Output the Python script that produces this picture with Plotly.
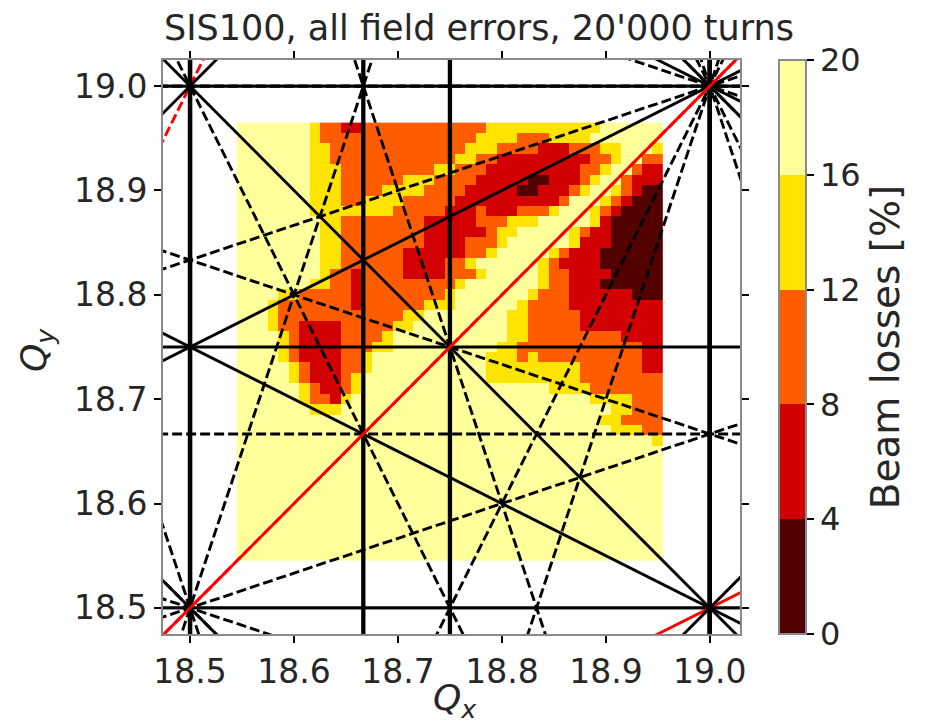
import plotly.graph_objects as go

# ---------------- data ----------------
QX_CENTERS = [18.55, 18.56, 18.57, 18.58, 18.59, 18.60, 18.61, 18.62, 18.63, 18.64,
              18.65, 18.66, 18.67, 18.68, 18.69, 18.70, 18.71, 18.72, 18.73, 18.74,
              18.75, 18.76, 18.77, 18.78, 18.79, 18.80, 18.81, 18.82, 18.83, 18.84,
              18.85, 18.86, 18.87, 18.88, 18.89, 18.90, 18.91, 18.92, 18.93, 18.94, 18.95]
# rows listed from top (Qy = 18.96) to bottom (Qy = 18.55)
QY_CENTERS_TOP_DOWN = [18.96, 18.95, 18.94, 18.93, 18.92, 18.91, 18.90, 18.89, 18.88, 18.87,
                       18.86, 18.85, 18.84, 18.83, 18.82, 18.81, 18.80, 18.79, 18.78, 18.77,
                       18.76, 18.75, 18.74, 18.73, 18.72, 18.71, 18.70, 18.69, 18.68, 18.67,
                       18.66, 18.65, 18.64, 18.63, 18.62, 18.61, 18.60, 18.59, 18.58, 18.57,
                       18.56, 18.55]
# loss class per cell: 0: 0-4 %, 1: 4-8 %, 2: 8-12 %, 3: 12-16 %, 4: 16-20 %
LOSS_CLASS_VALUE = {"0": 2, "1": 6, "2": 10, "3": 14, "4": 18}
LOSS_ROWS = [
    "4444444" "3" "22" "11" "222222222222" "33333333333" "444444",
    "4444444" "3" "222222222222222" "3333" "222" "3333" "4444444",
    "4444444" "33" "2222222222222" "333" "2222" "111" "222" "33" "444" "3",
    "4444444" "33" "222222222222" "33" "22" "111111111" "22" "3" "44" "22",
    "4444444" "333" "222222222" "33" "222" "111111111" "22" "3" "44" "2" "11",
    "4444444" "333" "222222" "333" "2222" "11111" "00" "111" "2" "3" "44" "2" "111",
    "4444444" "333" "2222" "3333" "2222" "11111" "00" "111" "2" "3" "44" "3" "2" "1" "00",
    "4444444" "333" "22" "3333" "22222" "1111111" "111" "2" "44" "4" "3" "2" "1" "000",
    "4444444" "3333333" "3" "22222" "111" "2" "111" "2" "22" "3" "444" "3" "2" "1" "0000",
    "44444444" "33" "2222" "2222" "11111" "222" "33" "3" "444" "4" "4" "3" "1" "00000",
    "44444444" "33" "2222" "2222" "111111" "2" "33" "4" "444" "4" "3" "2" "11" "00000",
    "44444444" "33" "2222" "2222" "1111" "222" "3" "44" "44" "4" "4" "3" "111" "00000",
    "44444444" "33" "2222" "22" "111111" "22" "3" "444" "4" "4" "3" "2" "111" "000000",
    "44444444" "33" "2222" "22" "1111" "22" "3" "44444" "4" "3" "2" "1111" "000000",
    "44444444" "3" "22" "1" "22" "22" "1111" "222" "3" "4444" "4" "3" "22" "1111" "00000",
    "4444444" "33" "22" "1" "22" "2222222" "3" "4444" "4" "4" "4" "3" "22" "111" "000000",
    "4444" "33" "22222" "1" "22" "222222" "3" "4444" "4" "44" "3" "222" "111111" "000",
    "444" "3" "2222222" "1" "22" "2222" "333" "444" "4" "44" "3" "2222" "111111111",
    "444" "3" "2222222222" "22" "33" "44444" "4" "44" "33" "22222" "11111111",
    "444" "3" "22" "1111" "2222" "2" "33" "44444" "4" "444" "33" "22222" "11111111",
    "4444" "3" "2" "1111" "2222" "3" "444444" "4" "4444" "33" "222222222" "1111",
    "4444" "3" "2" "1111" "222" "3" "3" "44444" "4" "4444" "33" "2" "22222222222" "11",
    "4444" "3" "2" "1111" "22" "3" "4" "44444" "4" "4444" "333" "2" "3" "2222222222" "11",
    "44444" "3" "2" "111" "22" "3" "4" "4444" "4" "44444" "3333" "33333" "222222" "11",
    "44444" "3" "2" "111" "2" "3" "44" "444" "4" "444444" "3333" "33333" "22222222",
    "444444" "3" "2" "11" "2" "3" "44" "44444444444444" "44" "3333" "2222222",
    "444444" "3" "22" "1" "3" "444" "44444444444444" "444444" "3333" "222",
    "4444444" "333" "4444" "44444444444444" "44444444" "33" "222",
    "44444444444444444444444444444444444" "33" "2222",
    "444444444444444444444444444444444444" "333" "22",
    "4444444444444444444444444444444444444444" "3",
    "44444444444444444444444444444444444444444",
    "44444444444444444444444444444444444444444",
    "44444444444444444444444444444444444444444",
    "44444444444444444444444444444444444444444",
    "44444444444444444444444444444444444444444",
    "44444444444444444444444444444444444444444",
    "44444444444444444444444444444444444444444",
    "44444444444444444444444444444444444444444",
    "44444444444444444444444444444444444444444",
    "44444444444444444444444444444444444444444",
    "44444444444444444444444444444444444444444",
]

# resonance lines m*Qx + n*Qy = p  (orders 1..4)
RESONANCES = [
    (1, 0, 19), (0, 1, 19),
    (2, 0, 37), (2, 0, 38), (0, 2, 37), (0, 2, 38), (1, 1, 37), (1, 1, 38), (1, -1, 0),
    (3, 0, 56), (3, 0, 57), (0, 3, 56), (0, 3, 57),
    (2, 1, 56), (2, 1, 57), (2, -1, 18), (2, -1, 19),
    (1, 2, 56), (1, 2, 57), (1, -2, -18), (1, -2, -19),
    (4, 0, 74), (4, 0, 75), (4, 0, 76), (0, 4, 74), (0, 4, 75), (0, 4, 76),
    (3, 1, 74), (3, 1, 75), (3, 1, 76), (3, -1, 37), (3, -1, 38),
    (1, 3, 74), (1, 3, 75), (1, 3, 76), (1, -3, -37), (1, -3, -38),
    (2, 2, 74), (2, 2, 75), (2, 2, 76), (2, -2, -1), (2, -2, 0), (2, -2, 1),
]
SUPERPERIODS = 6

X_RANGE = [18.474, 19.029]
Y_RANGE = [18.475, 19.025]
TICKS = [18.5, 18.6, 18.7, 18.8, 18.9, 19.0]
CBAR_TICKS = [0, 4, 8, 12, 16, 20]
LEVEL_COLORS = ["#520000", "#d20000", "#ff5c00", "#ffe400", "#ffff9b"]

TITLE = "SIS100, all field errors, 20'000 turns"
CBAR_TITLE = "Beam losses [%]"
XLABEL = "<i>Q</i><sub><i>x</i></sub>"
YLABEL = "<i>Q</i><sub><i>y</i></sub>"

# ---------------- build ----------------
rows = [(r + "4" * 41)[:41] for r in LOSS_ROWS]
z_top_down = [[LOSS_CLASS_VALUE[c] for c in r] for r in rows]
z = z_top_down[::-1]
qy = QY_CENTERS_TOP_DOWN[::-1]

cs = []
nlev = len(LEVEL_COLORS)
for k, col in enumerate(LEVEL_COLORS):
    cs.append([k / nlev, col])
    cs.append([(k + 1) / nlev, col])

FONT = "DejaVu Sans"
TXT = "#262626"
OFF = 8                      # page body margin of the html page
W, H = 935 - OFF, 727 - OFF
L, R, T, B = 163 - OFF, 740 - OFF, 60 - OFF, 634 - OFF
PW, PH = R - L, B - T

fig = go.Figure()
fig.add_trace(go.Heatmap(
    x=QX_CENTERS, y=qy, z=z, zmin=0, zmax=20, colorscale=cs,
    showscale=True,
    colorbar=dict(
        x=(779 - OFF - L) / PW, xanchor="left", xpad=0, ypad=0,
        y=0.5, yanchor="middle", len=1.0, lenmode="fraction",
        thickness=27, outlinecolor="#8a8a8a", outlinewidth=2,
        tickvals=CBAR_TICKS, ticks="outside", ticklen=7, tickwidth=2,
        tickcolor="black", tickfont=dict(family=FONT, size=32, color=TXT),
        title=dict(text=CBAR_TITLE, side="right", font=dict(family=FONT, size=39, color=TXT)),
    ),
    hoverinfo="skip",
))

lo, hi = 18.2, 19.3
for (m, n, p) in RESONANCES:
    color = "red" if p % SUPERPERIODS == 0 else "black"
    dashed = n % 2 != 0
    if n == 0:
        xs = [p / m, p / m]
        ys = [lo, hi]
        width = 4.3
    else:
        xs = [lo, hi]
        ys = [(p - m * lo) / n, (p - m * hi) / n]
        width = 2.9
    fig.add_trace(go.Scatter(
        x=xs, y=ys, mode="lines",
        line=dict(color=color, width=width, dash="10px,4px" if dashed else "solid"),
        showlegend=False, hoverinfo="skip",
    ))

axis_common = dict(
    tickvals=TICKS, ticktext=["%.1f" % t for t in TICKS],
    showgrid=False, zeroline=False, automargin=False,
    showline=True, linecolor="#8a8a8a", linewidth=2, mirror="ticks",
    ticks="outside", ticklen=7, tickwidth=2, tickcolor="black",
    tickfont=dict(family=FONT, size=33, color=TXT),
)

fig.update_layout(
    width=W, height=H,
    margin=dict(l=L, r=W - R, t=T, b=H - B, autoexpand=False),
    paper_bgcolor="white", plot_bgcolor="white",
    font=dict(family=FONT, color=TXT),
    title=dict(text=TITLE, x=(479 - OFF) / W, xanchor="center", xref="container",
               y=1 - (28 - OFF) / H, yanchor="middle", yref="container",
               font=dict(family=FONT, size=35, color=TXT)),
    xaxis=dict(axis_common, range=X_RANGE),
    yaxis=dict(axis_common, range=Y_RANGE),
    annotations=[
        dict(text=XLABEL, xref="paper", yref="paper", x=(455 - 163) / PW, y=(634 - 675) / PH,
             xanchor="center", yanchor="top", showarrow=False,
             font=dict(family=FONT, size=36, color=TXT)),
        dict(text=YLABEL, xref="paper", yref="paper", x=(36 - 163) / PW, y=(634 - 350) / PH,
             xanchor="center", yanchor="middle", showarrow=False, textangle=-90,
             font=dict(family=FONT, size=36, color=TXT)),
    ],
)

fig.write_html("out.html")
